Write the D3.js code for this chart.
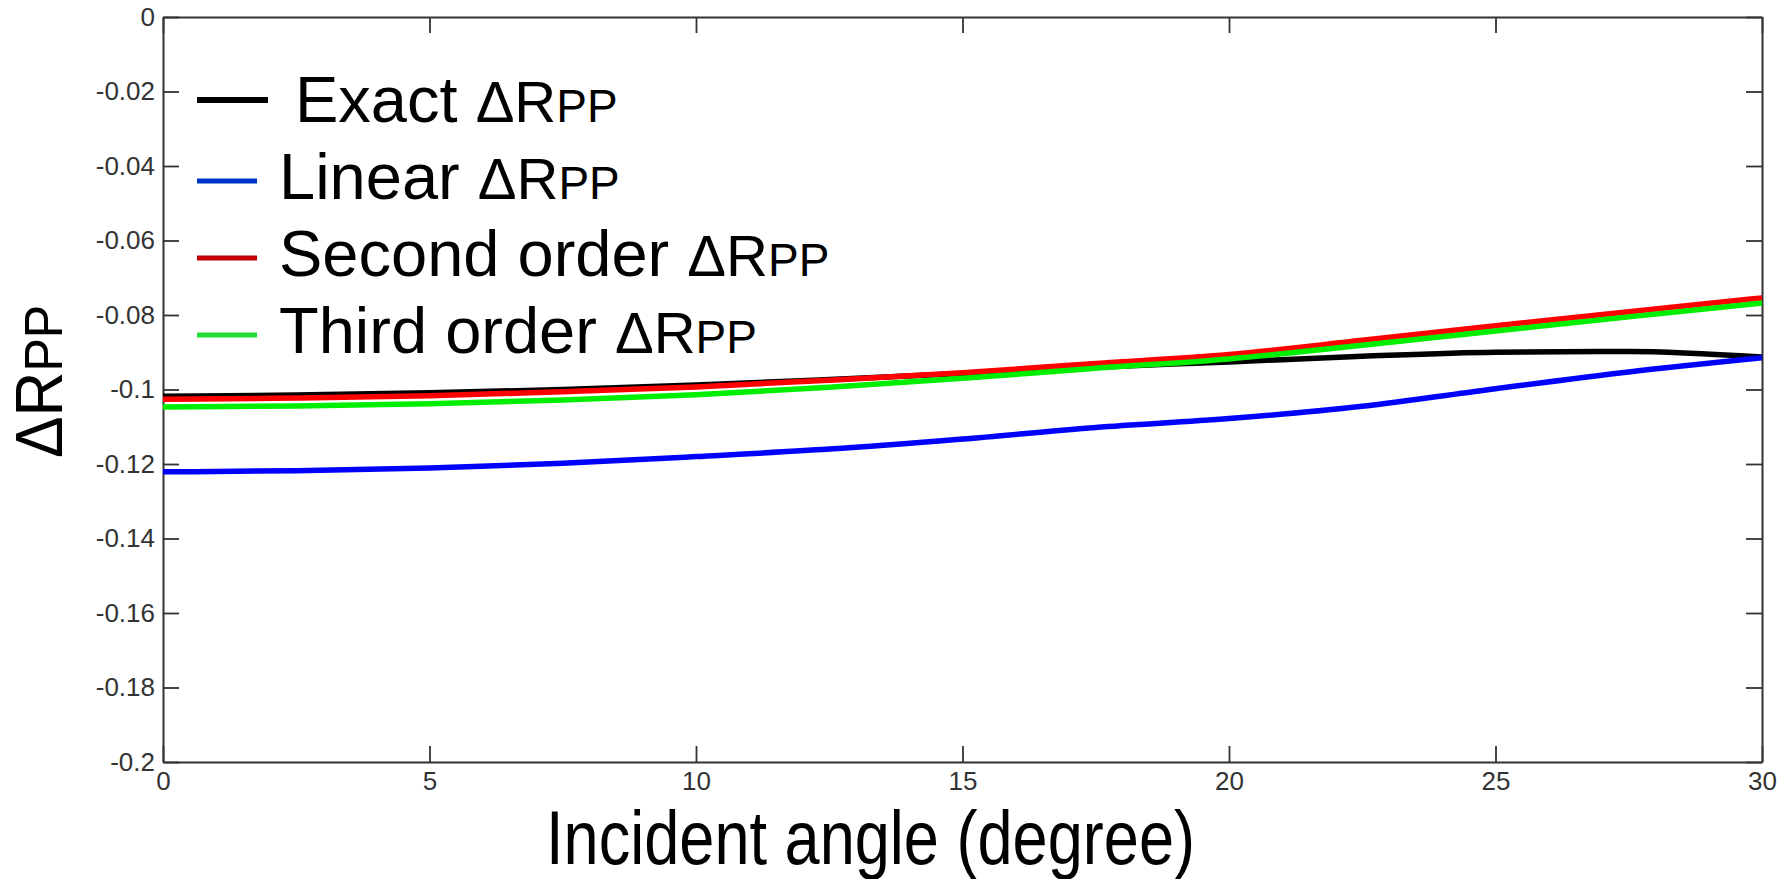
<!DOCTYPE html>
<html>
<head>
<meta charset="utf-8">
<script src="https://cdn.jsdelivr.net/npm/d3@7"></script>
<style>
body { margin: 0; background: #fff; }
text { font-family: "Liberation Sans", Arial, sans-serif; }
</style>
</head>
<body>
<div id="chart"></div>
<script>
// incident angle samples (degree) and the four Delta Rpp curves
var angles = [0, 2.5, 5, 7.5, 10, 12.5, 15, 17.5, 20, 22.5, 25, 27.5, 30];
var exactRpp  = [-0.1018, -0.1015, -0.1009, -0.1000, -0.0988, -0.0973, -0.0957, -0.0940, -0.0926, -0.0911, -0.0900, -0.0898, -0.0913];
var linearRpp = [-0.1221, -0.1218, -0.1211, -0.1198, -0.1180, -0.1160, -0.1133, -0.1102, -0.1078, -0.1045, -0.0998, -0.0953, -0.0915];
var secondRpp = [-0.1026, -0.1023, -0.1017, -0.1006, -0.0993, -0.0975, -0.0955, -0.0930, -0.0906, -0.0868, -0.0829, -0.0791, -0.0754];
var thirdRpp  = [-0.1047, -0.1044, -0.1038, -0.1028, -0.1014, -0.0994, -0.0970, -0.0943, -0.0918, -0.0881, -0.0843, -0.0805, -0.0768];

var seriesNames = ["Exact", "Linear", "Second order", "Third order"];
var seriesValues = [exactRpp, linearRpp, secondRpp, thirdRpp];
var lineColors = ["#000000", "#0000ff", "#ff0000", "#00ee00"];
var legendColors = ["#000000", "#0033cc", "#c00000", "#22dd33"];

var xTicks = [0, 5, 10, 15, 20, 25, 30];
var yTicks = [0, -0.02, -0.04, -0.06, -0.08, -0.1, -0.12, -0.14, -0.16, -0.18, -0.2];

var margin = {top: 17, right: 27, bottom: 117, left: 163},
    width = 1789 - margin.left - margin.right,
    height = 879 - margin.top - margin.bottom;

var svg = d3.select("#chart").append("svg")
    .attr("width", 1789)
    .attr("height", 879)
    .style("display", "block");

svg.append("rect").attr("width", 1789).attr("height", 879).attr("fill", "#fff");

var g = svg.append("g")
    .attr("transform", "translate(" + margin.left + "," + margin.top + ")");

var xScale = d3.scaleLinear().domain([0, 30]).range([0, width]);
var yScale = d3.scaleLinear().domain([-0.2, 0]).range([height, 0]);

function yFmt(d) {
    if (Math.abs(d) < 1e-9) return "0";
    return String(+d.toFixed(2));
}

g.append("g")
    .attr("transform", "translate(0," + height + ")")
    .call(d3.axisBottom(xScale).tickValues(xTicks).tickSizeInner(-16).tickSizeOuter(0)
        .tickPadding(10).tickFormat(d3.format("d")));

g.append("g")
    .call(d3.axisLeft(yScale).tickValues(yTicks).tickSizeInner(-16).tickSizeOuter(0)
        .tickPadding(8).tickFormat(yFmt));

g.append("g")
    .call(d3.axisTop(xScale).tickValues(xTicks).tickSizeInner(-16).tickSizeOuter(0).tickFormat(""));

g.append("g")
    .attr("transform", "translate(" + width + ",0)")
    .call(d3.axisRight(yScale).tickValues(yTicks).tickSizeInner(-16).tickSizeOuter(0).tickFormat(""));

g.selectAll(".domain").attr("stroke", "#333").attr("stroke-width", 2);
g.selectAll(".tick line").attr("stroke", "#333").attr("stroke-width", 1.8);
g.selectAll(".tick text")
    .attr("fill", "#333")
    .style("font-size", "26px")
    .style("font-family", "\"Liberation Sans\", Arial, sans-serif");

// curves
g.append("clipPath").attr("id", "plotclip")
    .append("rect").attr("width", width).attr("height", height);

var line = d3.line()
    .x(function (d) { return xScale(d[0]); })
    .y(function (d) { return yScale(d[1]); })
    .curve(d3.curveMonotoneX);

var curves = g.append("g").attr("clip-path", "url(#plotclip)");
// MATLAB draw order: exact, linear, second, third
[0, 1, 2, 3].forEach(function (i) {
    curves.append("path")
        .datum(angles.map(function (a, j) { return [a, seriesValues[i][j]]; }))
        .attr("fill", "none")
        .attr("stroke", lineColors[i])
        .attr("stroke-width", 5.5)
        .attr("d", line);
});

// legend
var legend = svg.selectAll(".legend")
    .data(seriesNames)
    .enter().append("g")
    .attr("class", "legend");

legend.append("line")
    .attr("x1", 197)
    .attr("x2", function (d, i) { return i === 0 ? 268 : 257; })
    .attr("y1", function (d, i) { return 122 + i * 77 - (i === 0 ? 22 : 18); })
    .attr("y2", function (d, i) { return 122 + i * 77 - (i === 0 ? 22 : 18); })
    .attr("stroke", function (d, i) { return legendColors[i]; })
    .attr("stroke-width", function (d, i) { return i === 0 ? 6 : 5; });

var legendText = legend.append("text")
    .attr("x", function (d, i) { return i === 0 ? 295 : 279; })
    .attr("y", function (d, i) { return 122 + i * 77; })
    .attr("fill", "#000")
    .style("font-size", "65px");

legendText.append("tspan").text(function (d) { return d + " "; });
legendText.append("tspan").style("font-size", "58px").text("ΔR");
legendText.append("tspan").style("font-size", "46px").text("PP");

// y axis title
var yTitle = svg.append("text")
    .attr("transform", "translate(62,458) rotate(-90)")
    .attr("textLength", 153)
    .attr("lengthAdjust", "spacingAndGlyphs")
    .attr("fill", "#000")
    .style("font-size", "66px");
yTitle.append("tspan").text("ΔR");
yTitle.append("tspan").style("font-size", "53px").text("PP");

// x axis title
svg.append("text")
    .attr("x", 546)
    .attr("y", 864)
    .attr("textLength", 649)
    .attr("lengthAdjust", "spacingAndGlyphs")
    .attr("fill", "#000")
    .style("font-size", "76px")
    .text("Incident angle (degree)");
</script>
</body>
</html>
